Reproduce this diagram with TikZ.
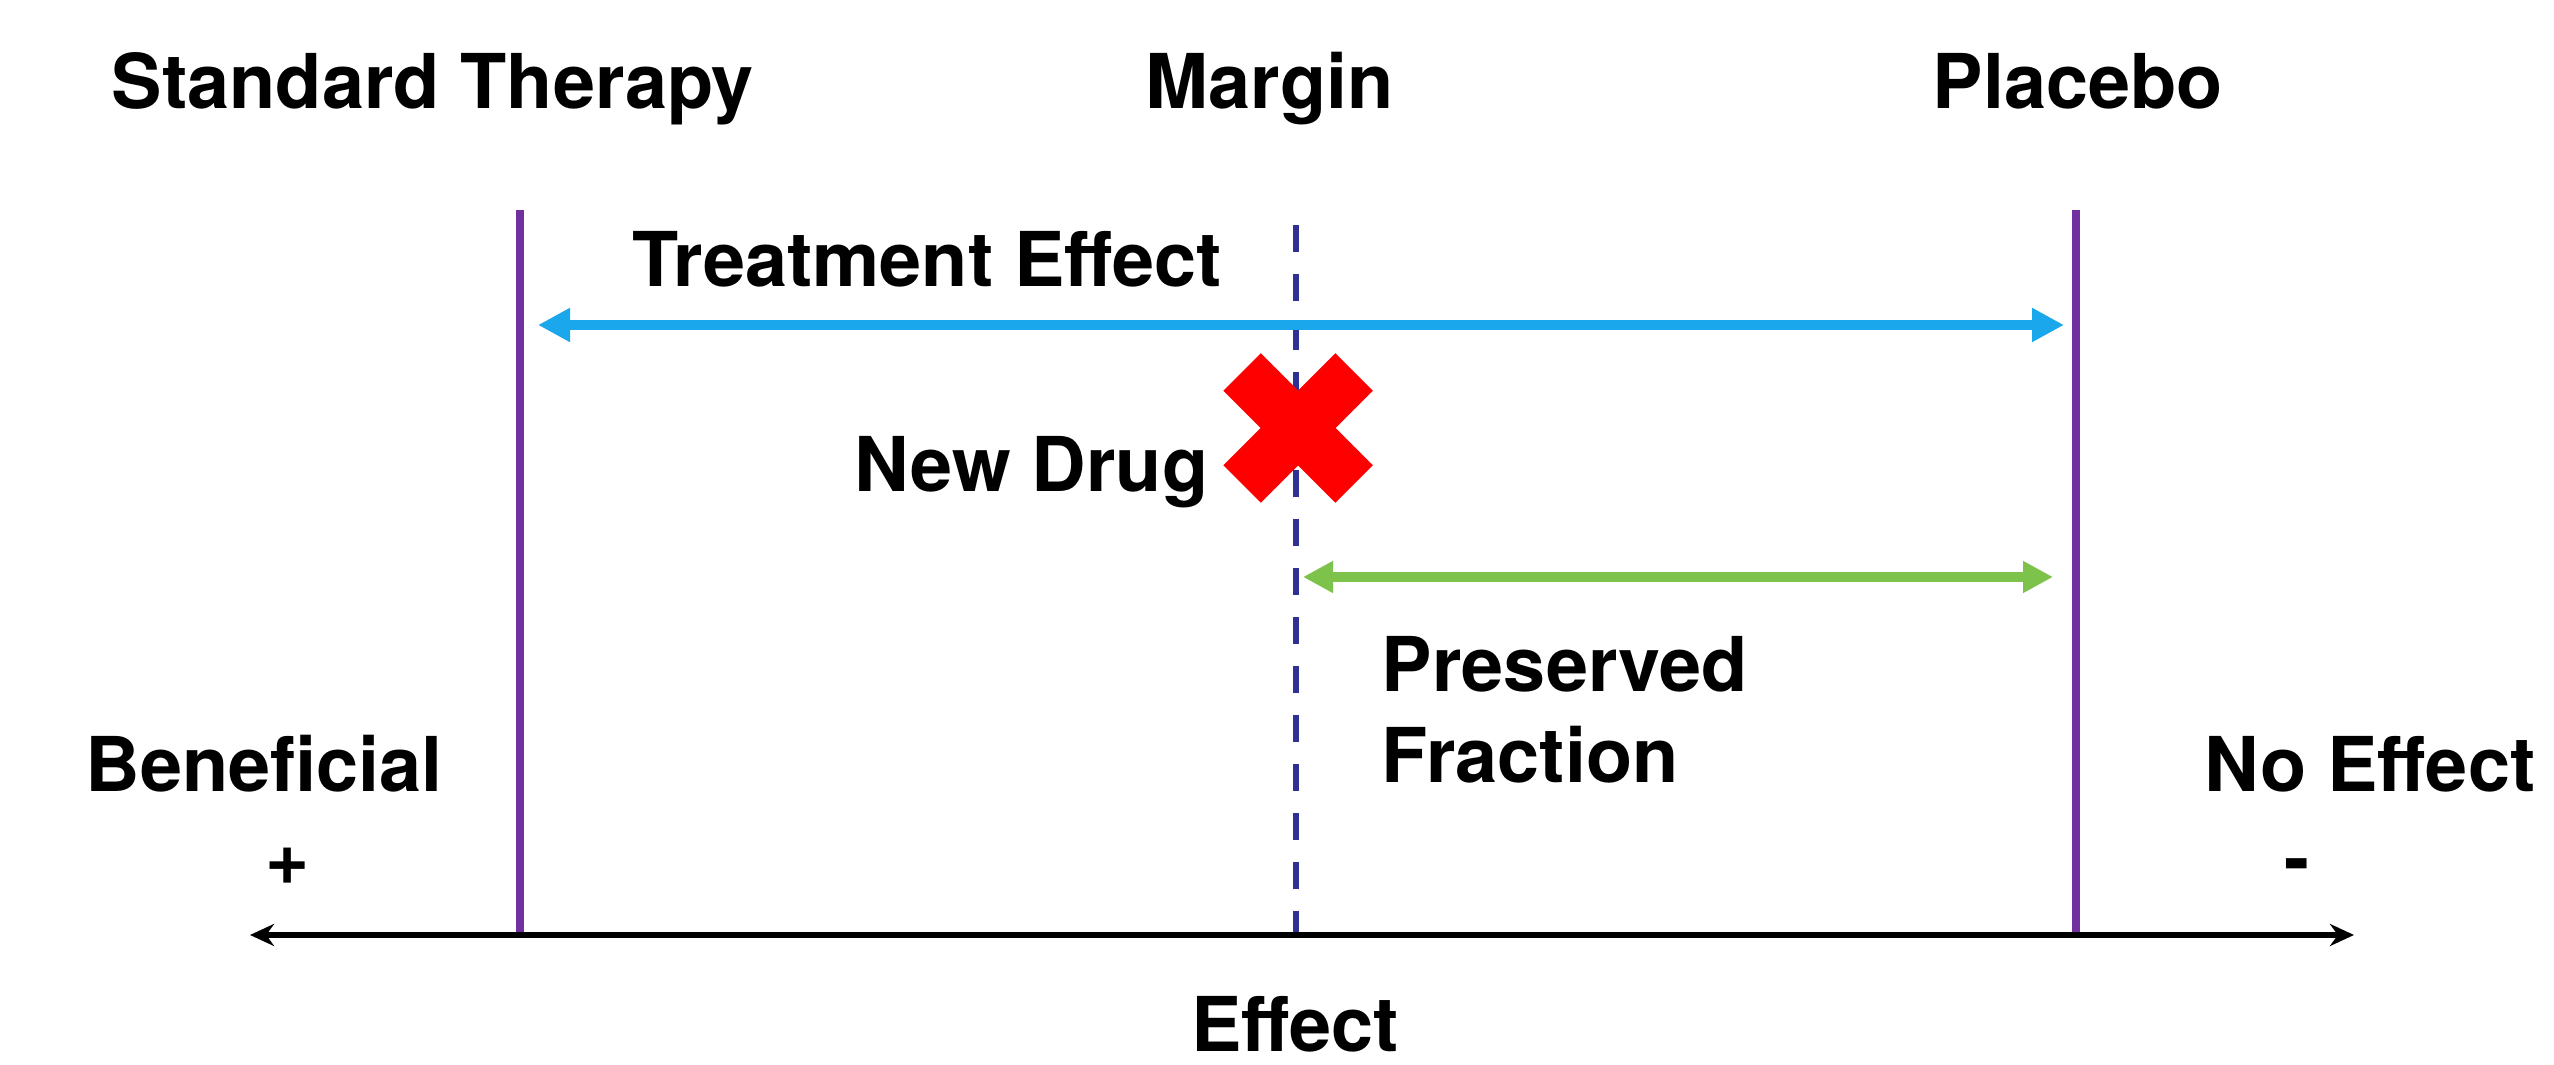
\documentclass[tikz,border=0pt]{standalone}
\usepackage{fontspec}
\setmainfont{TeX Gyre Heros}
\usetikzlibrary{arrows.meta}
\definecolor{vpurple}{HTML}{7030A0}
\definecolor{tblue}{HTML}{1AA7EC}
\definecolor{pgreen}{HTML}{7DC24B}
\definecolor{mnavy}{HTML}{2E3192}
\tikzset{
  lbl/.style={inner sep=0pt, anchor=base west, font=\fontsize{21.5}{25}\selectfont\bfseries},
  vline/.style={draw=vpurple, line width=2.3pt},
  teff/.style={draw=tblue, line width=2.8pt, {Triangle[length=0.32cm,width=0.32cm]}-{Triangle[length=0.32cm,width=0.32cm]}},
  pfrac/.style={draw=pgreen, line width=2.8pt, {Triangle[length=0.3cm,width=0.3cm]}-{Triangle[length=0.3cm,width=0.3cm]}},
  axisline/.style={draw=black, line width=1.8pt, {Stealth[length=0.24cm,width=0.22cm]}-{Stealth[length=0.24cm,width=0.22cm]}},
  marginline/.style={draw=mnavy, line width=1.9pt, dash pattern=on 0.27cm off 0.22cm},
  xmark/.style={draw=red, line width=0.53cm, line cap=butt}
}
\begin{document}
\begin{tikzpicture}[x=0.01cm, y=-0.01cm]
\useasboundingbox (0,0) rectangle (2554,1065);
\fill[white] (0,0) rectangle (2554,1065);
% coordinates
\coordinate (stTop) at (520,210);
\coordinate (stBot) at (520,935);
\coordinate (plTop) at (2076,210);
\coordinate (plBot) at (2076,935);
\coordinate (mTop) at (1296,225);
\coordinate (mBot) at (1296,935);
\coordinate (axL) at (250,935);
\coordinate (axR) at (2354,935);
\coordinate (teL) at (538,325);
\coordinate (teR) at (2064,325);
\coordinate (pfL) at (1303,577);
\coordinate (pfR) at (2053,577);
\coordinate (nd) at (1298,428);
% labels
\node[lbl] (st) at (111,109) {Standard Therapy};
\node[lbl] (mg) at (1145,109) {Margin};
\node[lbl] (pl) at (1932,109) {Placebo};
\node[lbl] (te) at (632,287) {Treatment Effect};
\node[lbl, anchor=base east] (ndl) at (1209,492) {New Drug};
\node[lbl] (pr1) at (1381,692) {Preserved};
\node[lbl] (pr2) at (1381,783) {Fraction};
\node[lbl] (ben) at (85,792) {Beneficial};
\node[lbl, anchor=base] (plus) at (288,885) {+};
\node[lbl, anchor=base] (noe) at (2370,792) {No Effect};
\node[lbl, anchor=base] (minus) at (2297,885) {-};
\node[lbl, anchor=base] (eff) at (1295,1052) {Effect};
% lines
\draw[vline] (stTop) -- (stBot);
\draw[vline] (plTop) -- (plBot);
\draw[marginline] (mTop) -- (mBot);
\draw[axisline] (axL) -- (axR);
\draw[teff] (teL) -- (teR);
\draw[pfrac] (pfL) -- (pfR);
% red cross
\draw[xmark] ([shift={(-56,-56)}]nd) -- ([shift={(56,56)}]nd);
\draw[xmark] ([shift={(-56,56)}]nd) -- ([shift={(56,-56)}]nd);
\end{tikzpicture}
\end{document}
